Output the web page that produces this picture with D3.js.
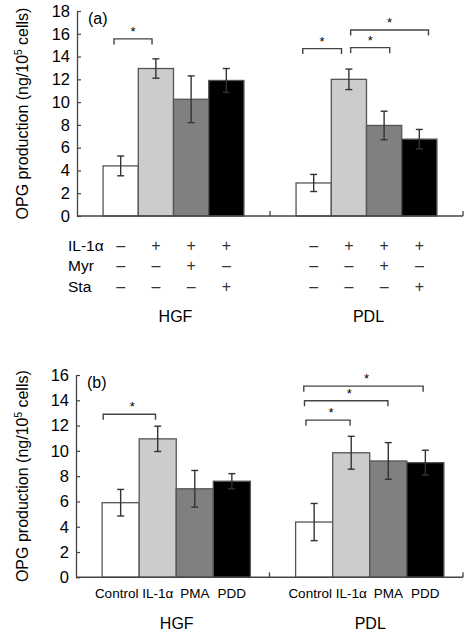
<!DOCTYPE html>
<html><head><meta charset="utf-8">
<script src="https://cdn.jsdelivr.net/npm/d3@7"></script>
<style>body{margin:0;background:#fff}svg{display:block;font-family:"Liberation Sans",Arial,Helvetica,sans-serif}</style>
</head><body><svg id="c" width="464" height="632"></svg>
<script>
// ---- data ----
const groups = ["HGF", "PDL"];
const conditionsA = ["ctrl", "IL1", "IL1+Myr", "IL1+Sta"];
const conditionsB = ["Control", "IL-1\u03b1", "PMA", "PDD"];
const fills = ["#ffffff", "#cccccc", "#808080", "#000000"];

const meansA_HGF = [4.4, 12.95, 10.25, 11.9];
const errA_HGF   = [0.87, 0.85, 2.05, 1.05];
const meansA_PDL = [2.9, 12.0, 7.95, 6.75];
const errA_PDL   = [0.75, 0.9, 1.25, 0.85];

const meansB_HGF = [5.9, 10.95, 7.0, 7.6];
const errB_HGF   = [1.05, 1.0, 1.45, 0.6];
const meansB_PDL = [4.37, 9.85, 9.2, 9.07];
const errB_PDL   = [1.47, 1.3, 1.45, 0.98];

const ticksA = [0, 2, 4, 6, 8, 10, 12, 14, 16, 18];
const ticksB = [0, 2, 4, 6, 8, 10, 12, 14, 16];

// treatment table for panel (a)
const rowLabels = ["IL-1\u03b1", "Myr", "Sta"];
const rowIL1 = ["\u2013", "+", "+", "+"];
const rowMyr = ["\u2013", "\u2013", "+", "\u2013"];
const rowSta = ["\u2013", "\u2013", "\u2013", "+"];

// significance brackets: [group, from (bar index), to (bar index), level]
const sigA = [["HGF", -0.19, 0.89, 15.55], ["PDL", -0.31, 0.79, 14.7], ["PDL", 1.05, 2.16, 14.78], ["PDL", 1.05, 3.26, 16.33]];
const sigB = [["HGF", -0.47, 0.94, 12.89], ["PDL", -0.22, 0.97, 12.43], ["PDL", -0.26, 1.99, 13.96], ["PDL", -0.28, 2.94, 15.12]];

// ---- drawing ----
const svg = d3.select("#c");
const FONT = "Liberation Sans, Arial, sans-serif";

function panel(cfg) {
  const g = svg.append("g");
  const x0 = d3.scaleBand().domain(groups).range([cfg.left, cfg.right]);
  const x1 = d3.scaleBand().domain(d3.range(4)).range([0, x0.bandwidth()]).paddingOuter(cfg.po).paddingInner(0);
  const y = d3.scaleLinear().domain(cfg.domain).range([cfg.bottom, cfg.top]);
  const cx = (grp, p) => x0(grp) + x1(0) + cfg.shift + x1.step() * p + x1.bandwidth() / 2;

  // bars
  groups.forEach((grp, gi) => {
    const means = cfg.means[gi], errs = cfg.errs[gi];
    const gg = g.append("g");
    gg.selectAll("rect").data(means).join("rect")
      .attr("x", (d, i) => x0(grp) + x1(i) + cfg.shift)
      .attr("width", x1.bandwidth())
      .attr("y", d => y(d))
      .attr("height", d => y(0) - y(d))
      .attr("fill", (d, i) => fills[i])
      .attr("stroke", "#555").attr("stroke-width", 1.3);
    // error bars
    const eb = gg.selectAll("g.eb").data(means).join("g").attr("class", "eb");
    eb.append("line")
      .attr("x1", (d, i) => cx(grp, i)).attr("x2", (d, i) => cx(grp, i))
      .attr("y1", (d, i) => y(d + errs[i])).attr("y2", (d, i) => y(d - errs[i]))
      .attr("stroke", "#333").attr("stroke-width", 1.4);
    [1, -1].forEach(s => {
      eb.append("line")
        .attr("x1", (d, i) => cx(grp, i) - 3.5).attr("x2", (d, i) => cx(grp, i) + 3.5)
        .attr("y1", (d, i) => y(d + s * errs[i])).attr("y2", (d, i) => y(d + s * errs[i]))
        .attr("stroke", "#333").attr("stroke-width", 1.4);
    });
  });

  // y axis
  const ya = g.append("g").attr("transform", `translate(${cfg.left},0)`)
    .call(d3.axisLeft(y).tickValues(cfg.ticks).tickSizeInner(-4).tickSizeOuter(0).tickPadding(7));
  ya.select(".domain").attr("stroke", "#444").attr("stroke-width", 1.3);
  ya.selectAll(".tick line").attr("stroke", "#444").attr("stroke-width", 1.2);
  ya.selectAll("text").attr("font-size", 16.5).attr("font-family", FONT).attr("fill", "#000");

  // x axis baseline with group dividers
  g.append("line").attr("x1", cfg.left).attr("x2", cfg.right).attr("y1", y(0)).attr("y2", y(0))
    .attr("stroke", "#444").attr("stroke-width", 1.5);
  groups.forEach(grp => {
    const xe = x0(grp) + x0.bandwidth();
    g.append("line").attr("x1", xe).attr("x2", xe).attr("y1", y(0)).attr("y2", y(0) - 5)
      .attr("stroke", "#444").attr("stroke-width", 1.3);
  });

  // panel letter
  g.append("text").attr("x", cfg.left + 11).attr("y", cfg.top + 13).text(cfg.letter)
    .attr("font-size", 16).attr("font-family", FONT);

  // y label
  const yl = g.append("text").attr("transform", `translate(28,${(cfg.top + cfg.bottom) / 2}) rotate(-90)`)
    .attr("text-anchor", "middle").attr("font-size", 16).attr("font-family", FONT);
  yl.append("tspan").text("OPG production (ng/10");
  yl.append("tspan").text("5").attr("font-size", 10).attr("dy", -6);
  yl.append("tspan").text(" cells)").attr("dy", 6);

  // significance brackets
  cfg.sig.forEach(([grp, a, b, lv]) => {
    const xa = cx(grp, a), xb = cx(grp, b), yy = y(lv);
    g.append("path").attr("d", `M${xa},${yy + 5.5}V${yy}H${xb}V${yy + 5.5}`)
      .attr("fill", "none").attr("stroke", "#444").attr("stroke-width", 1.4);
    g.append("text").attr("x", (xa + xb) / 2 + cfg.starShift).attr("y", yy - 3).attr("text-anchor", "middle")
      .attr("font-size", 13).attr("font-family", FONT).text("*");
  });

  return { x0, x1, y, cx };
}

// Panel (a)
const pa = panel({
  left: 77, right: 463, top: 11, bottom: 216, domain: [0, 18], ticks: ticksA, po: 0.74, shift: 0,
  means: [meansA_HGF, meansA_PDL], errs: [errA_HGF, errA_PDL], sig: sigA, letter: "(a)", starShift: 0
});
// treatment table
const rows = [rowIL1, rowMyr, rowSta];
const rowY = [251, 271, 292];
rowLabels.forEach((lab, r) => {
  svg.append("text").attr("x", 68).attr("y", rowY[r]).text(lab).attr("font-size", 15.5).attr("font-family", FONT);
  groups.forEach(grp => {
    svg.append("g").selectAll("text").data(rows[r]).join("text")
      .attr("x", (d, i) => pa.cx(grp, i)).attr("y", rowY[r]).attr("text-anchor", "middle")
      .attr("font-size", 16).attr("font-family", FONT).attr("fill", "#333").text(d => d);
  });
});
groups.forEach(grp => {
  svg.append("text").attr("x", pa.x0(grp) + pa.x0.bandwidth() / 2 + 2).attr("y", 322).attr("text-anchor", "middle")
    .attr("font-size", 16).attr("font-family", FONT).text(grp);
});

// Panel (b)
const pb = panel({
  left: 76, right: 463, top: 375, bottom: 577.3, domain: [0, 16], ticks: ticksB, po: 0.61, shift: 3.5,
  means: [meansB_HGF, meansB_PDL], errs: [errB_HGF, errB_PDL], sig: sigB, letter: "(b)", starShift: 3
});
groups.forEach(grp => {
  svg.append("g").selectAll("text").data(conditionsB).join("text")
    .attr("x", (d, i) => pb.cx(grp, i) - (i === 0 ? 4 : 0)).attr("y", 598).attr("text-anchor", "middle")
    .attr("font-size", 13.5).attr("font-family", FONT).text(d => d);
  svg.append("text").attr("x", pb.x0(grp) + pb.x0.bandwidth() / 2 + 4).attr("y", 629).attr("text-anchor", "middle")
    .attr("font-size", 16).attr("font-family", FONT).text(grp);
});
</script></body></html>
